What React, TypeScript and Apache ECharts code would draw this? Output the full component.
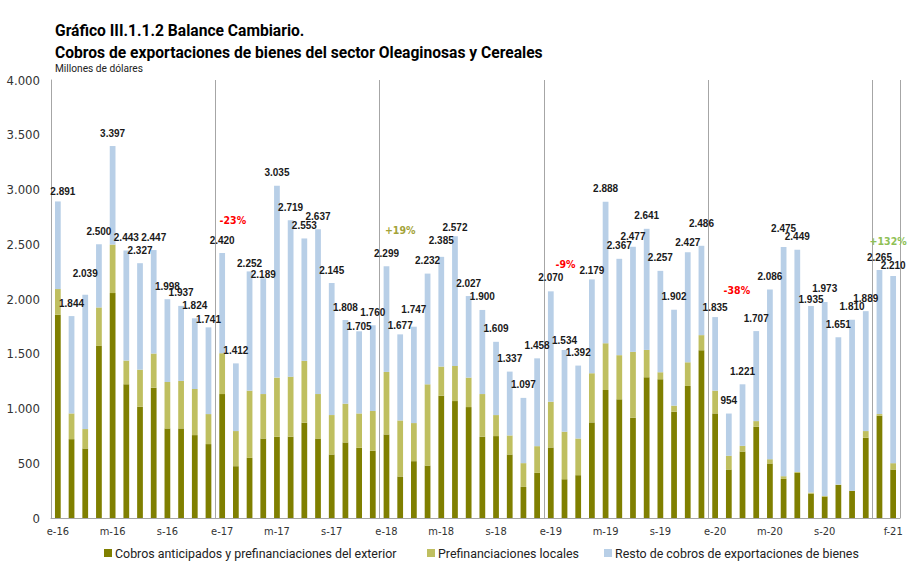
import React, { useEffect, useRef } from "react";
import * as echarts from "echarts";

const categories = [
  "e-16","f-16","m-16","a-16","m-16","j-16","j-16","a-16","s-16","o-16","n-16","d-16",
  "e-17","f-17","m-17","a-17","m-17","j-17","j-17","a-17","s-17","o-17","n-17","d-17",
  "e-18","f-18","m-18","a-18","m-18","j-18","j-18","a-18","s-18","o-18","n-18","d-18",
  "e-19","f-19","m-19","a-19","m-19","j-19","j-19","a-19","s-19","o-19","n-19","d-19",
  "e-20","f-20","m-20","a-20","m-20","j-20","j-20","a-20","s-20","o-20","n-20","d-20",
  "e-21","f-21",
];

const totals = [
  2891, 1844, 2039, 2500, 3397, 2443, 2327, 2447, 1998, 1937, 1824, 1741,
  2420, 1412, 2252, 2189, 3035, 2719, 2553, 2637, 2145, 1808, 1705, 1760,
  2299, 1677, 1747, 2232, 2385, 2572, 2027, 1900, 1609, 1337, 1097, 1458,
  2070, 1534, 1392, 2179, 2888, 2367, 2477, 2641, 2257, 1902, 2427, 2486,
  1835, 954, 1221, 1707, 2086, 2475, 2449, 1935, 1973, 1651, 1810, 1889,
  2265, 2210,
];

const exterior = [
  1856, 720, 635, 1572, 2054, 1221, 1016, 1190, 818, 818, 757, 675,
  1132, 473, 549, 726, 742, 742, 870, 726, 580, 690, 641, 614,
  763, 379, 519, 479, 1117, 1068, 1013, 742, 748, 580, 284, 412,
  644, 354, 391, 873, 1169, 1084, 916, 1285, 1267, 971, 1206, 1532,
  955, 443, 607, 833, 498, 357, 412, 223, 195, 302, 247, 733,
  934, 443,
];

const locales = [
  235, 235, 177, 351, 443, 217, 339, 312, 424, 434, 421, 274,
  373, 321, 614, 406, 540, 549, 565, 406, 360, 354, 314, 363,
  571, 512, 348, 742, 266, 321, 269, 390, 192, 174, 217, 244,
  418, 434, 335, 449, 427, 403, 601, 250, 64, 55, 216, 138,
  208, 125, 52, 52, 39, 25, 9, 9, 6, 3, 3, 61,
  15, 58,
];

const resto = totals.map((t, i) => t - exterior[i] - locales[i]);

const annIndex = [13, 25, 37, 49, 61];
const annValue = [2717, 2633, 2317, 2079, 2527];
const annText = ["-23%", "+19%", "-9%", "-38%", "+132%"];
const annColor = ["#ff0000", "#a3a338", "#ff0000", "#ff0000", "#8fc055"];
const annOffset = [-3, 0, 1, 8, -5];

const titleLines = [
  "Gráfico III.1.1.2 Balance Cambiario.",
  "Cobros de exportaciones de bienes del sector Oleaginosas y Cereales",
];
const subtitle = "Millones de dólares";

const seriesNames = [
  "Cobros anticipados y prefinanciaciones del exterior",
  "Prefinanciaciones locales",
  "Resto de cobros de exportaciones de bienes",
];
const colors = ["#7f7f00", "#bfbf60", "#b8cfe7"];

// per-bar nudges of the total labels (pixels: [dx, extra lift])
const labelNudge: Record<number, [number, number]> = {
  0: [5, -3], 2: [0, 8], 11: [0, -5], 14: [0, -5], 15: [0, -9], 22: [0, -8],
  25: [0, -4], 26: [0, 4], 28: [0, 3], 29: [0, -4], 36: [0, 1], 37: [0, -3],
  39: [0, -4], 42: [0, -3], 46: [0, -3], 47: [0, 9], 48: [0, -3], 53: [0, 5],
  55: [0, -6], 60: [0, -1], 61: [0, -2],
};

const NARROW = "'DejaVu Sans Condensed', 'Liberation Sans Narrow', Roboto, sans-serif";

const fmt = (n: number) => String(n).replace(/\B(?=(\d{3})+(?!\d))/g, ".");

const measure = (text: string, font: string) => {
  const ctx = document.createElement("canvas").getContext("2d");
  if (!ctx) return text.length * 7;
  ctx.font = font;
  return ctx.measureText(text).width;
};

export default function App() {
  const ref = useRef<HTMLDivElement>(null);
  useEffect(() => {
    if (!ref.current) return;
    const chart = echarts.init(ref.current, null, { renderer: "svg" });

    const titleScale = 488 / measure(titleLines[1], "bold 17px Roboto");
    const subScale = 88 / measure(subtitle, "11px Roboto");
    const legScale = 244 / measure(seriesNames[2], "13px Roboto");
    const legIconX = [104, 427, 604];

    const graphic: any[] = [
      ...titleLines.map((t, i) => ({
        type: "text",
        x: 55,
        y: 30 + i * 22,
        scaleX: titleScale,
        style: {
          text: t,
          fontFamily: "Roboto",
          fontSize: 17,
          fontWeight: "bold",
          fill: "#000",
          align: "left",
          verticalAlign: "middle",
        },
      })),
      {
        type: "text",
        x: 55,
        y: 68,
        scaleX: subScale,
        style: {
          text: subtitle,
          fontFamily: "Roboto",
          fontSize: 11,
          fill: "#222",
          align: "left",
          verticalAlign: "middle",
        },
      },
      ...seriesNames.flatMap((name, i) => [
        {
          type: "rect",
          shape: { x: legIconX[i], y: 549, width: 8, height: 8 },
          style: { fill: colors[i] },
        },
        {
          type: "text",
          x: legIconX[i] + 11,
          y: 553,
          scaleX: legScale,
          style: {
            text: name,
            fontFamily: "Roboto",
            fontSize: 13,
            fill: "#222",
            align: "left",
            verticalAlign: "middle",
          },
        },
      ]),
    ];

    const restoData = resto.map((v, i) => {
      const n = labelNudge[i];
      return n ? { value: v, label: { offset: [n[0], -n[1]] } } : v;
    });

    chart.setOption({
      animation: false,
      backgroundColor: "#ffffff",
      graphic,
      grid: { left: 51, right: 8, top: 80, bottom: 43 },
      xAxis: {
        type: "category",
        data: categories,
        axisLine: { lineStyle: { color: "#a6a6a6" } },
        axisTick: { show: false },
        axisLabel: {
          interval: (i: number) => (i % 4 === 0 && i < 60) || i === 61,
          fontFamily: NARROW,
          fontSize: 11,
          color: "#333",
          margin: 8,
        },
        splitLine: {
          show: true,
          interval: (i: number) => i > 0 && i % 12 === 0,
          lineStyle: { color: "#a6a6a6", width: 1 },
        },
      },
      yAxis: {
        type: "value",
        min: 0,
        max: 4000,
        interval: 500,
        axisLine: { show: true, lineStyle: { color: "#a6a6a6" } },
        axisTick: { show: false },
        splitLine: { show: false },
        axisLabel: {
          formatter: (v: number) => fmt(v),
          fontFamily: NARROW,
          fontSize: 13,
          color: "#333",
          margin: 11,
        },
      },
      series: [
        {
          name: seriesNames[0],
          type: "bar",
          stack: "total",
          data: exterior,
          barWidth: "42%",
          itemStyle: { color: colors[0] },
        },
        {
          name: seriesNames[1],
          type: "bar",
          stack: "total",
          data: locales,
          itemStyle: { color: colors[1] },
        },
        {
          name: seriesNames[2],
          type: "bar",
          stack: "total",
          data: restoData,
          itemStyle: { color: colors[2] },
          label: {
            show: true,
            position: "top",
            distance: 8,
            formatter: (p: any) => fmt(totals[p.dataIndex]),
            fontFamily: "'Liberation Sans', Arial, sans-serif",
            fontSize: 10,
            fontWeight: "bold",
            color: "#1a1a1a",
          },
          markPoint: {
            symbol: "circle",
            symbolSize: 0,
            data: annIndex.map((idx, k) => ({
              coord: [idx, annValue[k]],
              label: {
                show: true,
                position: "inside",
                offset: [annOffset[k], 0],
                formatter: annText[k],
                color: annColor[k],
                fontFamily: NARROW,
                fontSize: 10.5,
                fontWeight: "bold",
              },
            })),
          },
        },
      ],
    });
    return () => chart.dispose();
  }, []);
  return (
    <div
      ref={ref}
      style={{ position: "absolute", left: 0, top: 0, width: 908, height: 561 }}
    />
  );
}
